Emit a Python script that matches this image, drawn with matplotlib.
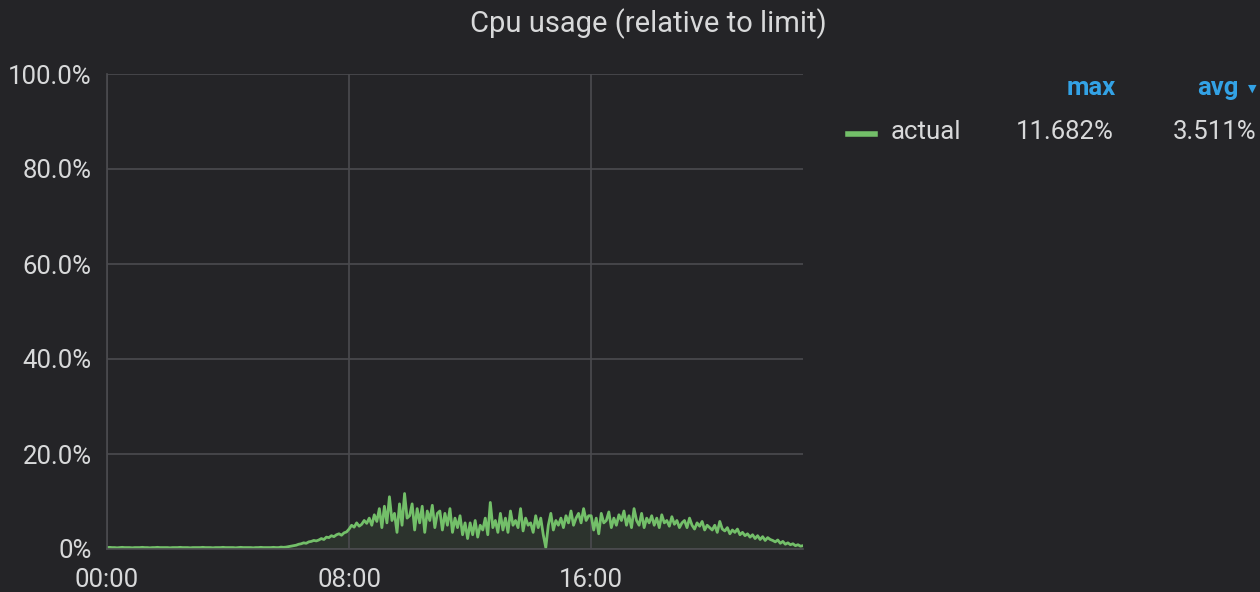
import numpy as np
import matplotlib.pyplot as plt

# cpu usage (% of limit), one sample every 5 minutes, 00:00 -> 23:00
quiet = [0.3, 0.35, 0.3, 0.3, 0.25, 0.3, 0.35, 0.3, 0.3, 0.3, 0.25, 0.3,
         0.3, 0.3, 0.35, 0.3, 0.3, 0.25, 0.3, 0.3, 0.35, 0.3, 0.3, 0.3,
         0.3, 0.25, 0.3, 0.3, 0.3, 0.35, 0.3, 0.3, 0.3, 0.25, 0.3, 0.3,
         0.3, 0.3, 0.35, 0.3, 0.3, 0.3, 0.25, 0.3, 0.3, 0.3, 0.35, 0.3,
         0.3, 0.3, 0.3, 0.25, 0.3, 0.35, 0.3, 0.3, 0.3, 0.3, 0.25, 0.3,
         0.3, 0.35, 0.3, 0.3, 0.3, 0.3, 0.35, 0.3, 0.3, 0.4, 0.35, 0.4]
busy = [0.5, 0.6, 0.7, 0.8, 1.0, 1.1, 1.3, 1.2, 1.5, 1.6, 1.8, 1.7,      # 06
        1.9, 2.2, 2.0, 2.5, 2.4, 2.8, 2.6, 3.0, 3.2, 2.9, 3.4, 3.6,      # 07
        4.2, 5.0, 4.6, 5.5, 4.8, 5.2, 6.0, 5.4, 6.5, 5.0, 7.2, 5.8,      # 08
        8.5, 4.5, 9.0, 5.5, 11.0, 6.0, 7.5, 3.5, 9.5, 5.0, 11.682, 6.5,  # 09
        7.0, 9.5, 4.0, 8.5, 5.5, 9.0, 3.5, 8.0, 6.0, 9.2, 4.5, 7.5,      # 10
        8.0, 4.0, 7.5, 5.0, 8.5, 3.5, 6.5, 4.5, 7.0, 3.0, 5.5, 2.2,      # 11
        5.5, 3.0, 6.0, 2.5, 5.0, 4.0, 6.5, 3.0, 9.8, 4.5, 6.0, 3.5,      # 12
        7.5, 4.0, 6.5, 3.5, 8.0, 5.0, 6.0, 4.5, 8.5, 3.8, 6.5, 5.0,      # 13
        5.5, 3.5, 7.0, 4.5, 6.5, 3.0, 0.3, 5.0, 7.5, 4.0, 6.0, 5.0,      # 14
        6.5, 4.5, 7.0, 5.5, 8.0, 5.0, 6.5, 7.5, 5.5, 8.5, 6.0, 7.0,      # 15
        7.0, 4.0, 6.5, 3.2, 7.5, 5.5, 6.0, 7.8, 4.5, 6.5, 5.0, 7.2,      # 16
        6.0, 8.0, 5.0, 7.0, 4.5, 8.5, 6.0, 5.0, 7.5, 4.5, 6.5, 5.5,      # 17
        7.0, 5.0, 6.5, 4.5, 7.2, 5.5, 6.0, 4.8, 6.8, 5.2, 6.0, 4.5,      # 18
        5.5, 6.0, 4.5, 6.5, 5.0, 4.2, 5.5, 4.8, 5.8, 4.0, 5.0, 4.5,      # 19
        4.0, 5.0, 3.5, 5.8, 4.2, 3.8, 4.5, 3.2, 4.0, 3.5, 4.2, 3.0,      # 20
        3.5, 2.8, 3.2, 2.5, 3.0, 2.2, 2.8, 2.0, 2.6, 1.8, 2.4, 2.0,      # 21
        1.8, 1.5, 1.9, 1.2, 1.6, 1.0, 1.3, 0.9, 1.1, 0.7, 0.9, 0.6,      # 22
        0.7]
usage = np.array(quiet + busy)
hours = np.arange(len(usage)) * 5 / 60

y_ticks = [0, 20, 40, 60, 80, 100]
y_labels = ['0%', '20.0%', '40.0%', '60.0%', '80.0%', '100.0%']
x_ticks = [0, 8, 16]
x_labels = ['00:00', '08:00', '16:00']
series_name = 'actual'
max_txt = '11.682%'
avg_txt = '3.511%'

bg = '#242427'
fg = '#d8d9da'
grid_c = '#4b4b4f'
green = '#73bf69'
blue = '#33a2e5'

plt.rcParams['font.family'] = ['Roboto', 'DejaVu Sans']

fig = plt.figure(figsize=(12.6, 5.92), dpi=100, facecolor=bg)
ax = fig.add_axes([107/1260, 43/592, 696/1260, 475/592])
ax.set_facecolor(bg)

ax.fill_between(hours, usage, color=green, alpha=0.1, lw=0)
ax.plot(hours, usage, color=green, lw=2)

ax.set_xlim(0, 23)
ax.set_ylim(0, 100)
ax.set_yticks(y_ticks, y_labels)
ax.set_xticks(x_ticks, x_labels)
ax.tick_params(length=0, colors=fg, labelsize=18.5)
ax.tick_params(axis='y', pad=11)
ax.tick_params(axis='x', pad=14)
ax.grid(True, color=grid_c, lw=1.2)
for s in ['top', 'right']:
    ax.spines[s].set_visible(False)
for s in ['left', 'bottom']:
    ax.spines[s].set_color(grid_c)
    ax.spines[s].set_linewidth(1.2)

fig.text(648/1260, 1 - 24/592, 'Cpu usage (relative to limit)', color=fg,
         fontsize=21, ha='center', va='center')

# legend table on the right
fig.text(1116/1260, 1 - 88/592, 'max', color=blue, fontsize=18.5,
         fontweight='bold', ha='right', va='center')
fig.text(1238/1260, 1 - 88/592, 'avg', color=blue, fontsize=18.5,
         fontweight='bold', ha='right', va='center')
fig.text(1256/1260, 1 - 89/592, '\u25bc', color=blue, fontsize=8,
         ha='right', va='center', family=['DejaVu Sans'])
fig.add_artist(plt.Line2D([848/1260, 875/1260], [1 - 134/592, 1 - 134/592],
                          color=green, lw=4, transform=fig.transFigure))
fig.text(891/1260, 1 - 132/592, series_name, color=fg, fontsize=18.5,
         ha='left', va='center')
fig.text(1114/1260, 1 - 132/592, max_txt, color=fg, fontsize=18.5,
         ha='right', va='center')
fig.text(1256/1260, 1 - 132/592, avg_txt, color=fg, fontsize=18.5,
         ha='right', va='center')

fig.savefig('out.png', dpi=100, facecolor=bg)
